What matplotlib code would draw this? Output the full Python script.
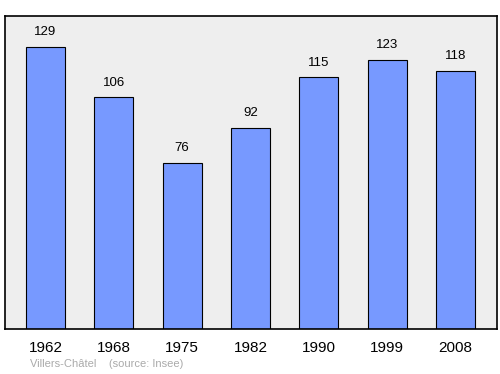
import matplotlib
matplotlib.use("Agg")
import matplotlib.pyplot as plt

years = ["1962", "1968", "1975", "1982", "1990", "1999", "2008"]
population = [129, 106, 76, 92, 115, 123, 118]
footer = "Villers-Châtel    (source: Insee)"

plt.rcParams['font.family'] = ['Liberation Sans', 'DejaVu Sans']
fig = plt.figure(figsize=(5, 3.74), dpi=100)
ax = fig.add_axes([5/500, 1-329/374, 492/500, 313/374])
ax.set_facecolor('#eeeeee')
x = list(range(len(years)))
ax.bar(x, population, width=0.571, color='#7799ff', edgecolor='black', linewidth=0.8)
for xi, v in zip(x, population):
    ax.annotate(str(v), (xi, v), xytext=(0, 6), textcoords='offset points',
                ha='center', va='bottom', fontsize=9.5)
ax.set_xlim(-0.593, 6.608)
ax.set_ylim(0, 143)
ax.set_yticks([])
ax.set_xticks(x)
ax.set_xticklabels(years, fontsize=11)
ax.tick_params(axis='x', length=0, pad=9)
for s in ax.spines.values():
    s.set_linewidth(1.2)
fig.text(30/500, 1-364/374, footer, fontsize=8, color='#aaaaaa', va='center')
fig.savefig('out.png', dpi=100)
